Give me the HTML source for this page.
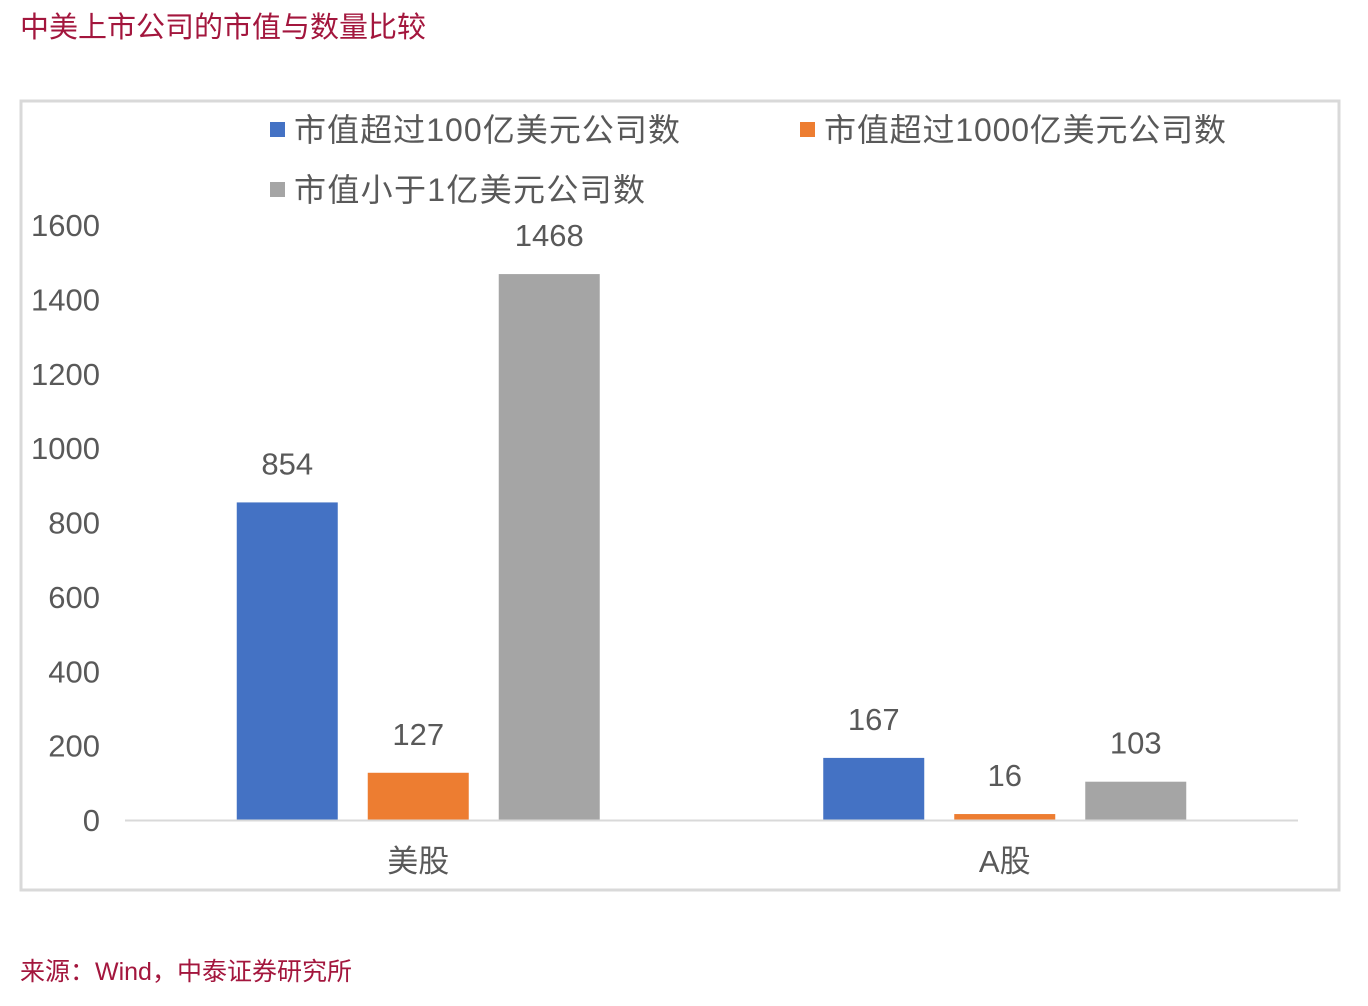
<!DOCTYPE html>
<html><head><meta charset="utf-8"><style>
body{margin:0;background:#fff;width:1368px;height:1006px;overflow:hidden;font-family:"Liberation Sans","Noto Sans CJK SC",sans-serif}
</style></head><body>
<div style="position:absolute;left:20px;top:4px;font-size:29px;color:#a3163d;font-family:'Liberation Sans','Noto Sans CJK SC',sans-serif">中美上市公司的市值与数量比较</div>
<svg width="1368" height="1006" style="position:absolute;left:0;top:0" font-family="Liberation Sans, Noto Sans CJK SC, sans-serif">
<rect x="21" y="101" width="1318" height="789" fill="none" stroke="#d9d9d9" stroke-width="3"/>
<g id="ticks"></g><g id="bars"></g>
<g font-size="32" fill="#595959">
<rect x="270" y="122" width="15" height="15" fill="#4472c4"/>
<text x="294" y="141" textLength="386">市值超过100亿美元公司数</text>
<rect x="800" y="122" width="15" height="15" fill="#ed7d31"/>
<text x="824" y="141" textLength="402">市值超过1000亿美元公司数</text>
<rect x="270" y="182" width="15" height="15" fill="#a5a5a5"/>
<text x="294" y="201" textLength="351">市值小于1亿美元公司数</text>
</g>
<line x1="125" y1="820.5" x2="1298" y2="820.5" stroke="#d9d9d9" stroke-width="2"/>
</svg>
<div style="position:absolute;left:20px;top:952px;font-size:25px;color:#a3163d">来源：Wind，中泰证券研究所</div>
<script>
const categories=["美股","A股"];
const seriesNames=["市值超过100亿美元公司数","市值超过1000亿美元公司数","市值小于1亿美元公司数"];
const over100=[854,167];
const over1000=[127,16];
const under1=[1468,103];
const yTicks=[0,200,400,600,800,1000,1200,1400,1600];
const colors=["#4472c4","#ed7d31","#a5a5a5"];
const NS="http://www.w3.org/2000/svg";
const y0=820,yTop=225,yMax=1600,xL=125,xR=1298;
const y=v=>y0-(v/yMax)*(y0-yTop);
const bw=101,gap=30;
const ticks=document.getElementById('ticks'),bars=document.getElementById('bars');
function mk(t,a,p){const e=document.createElementNS(NS,t);for(const k in a)e.setAttribute(k,a[k]);p.appendChild(e);return e;}
yTicks.forEach(v=>{const t=mk('text',{x:100,y:y(v)+11,'text-anchor':'end','font-size':31,fill:'#595959'},ticks);


t.textContent=v;});
const series=[over100,over1000,under1];
const gw=(xR-xL)/categories.length;
categories.forEach((c,i)=>{const cx=xL+gw*(i+0.5);
const l=mk('text',{x:cx,y:872,'text-anchor':'middle','font-size':31,fill:'#595959'},ticks);


l.textContent=c;
series.forEach((s,j)=>{const bx=cx-bw/2+(j-1)*(bw+gap);const v=s[i];
const r=mk('rect',{x:bx,y:y(v),width:bw,height:y0-y(v),fill:colors[j]},bars);


const t=mk('text',{x:bx+bw/2,y:y(v)-28,'text-anchor':'middle','font-size':31,fill:'#595959'},bars);


t.textContent=v;});});
</script>
</body></html>
